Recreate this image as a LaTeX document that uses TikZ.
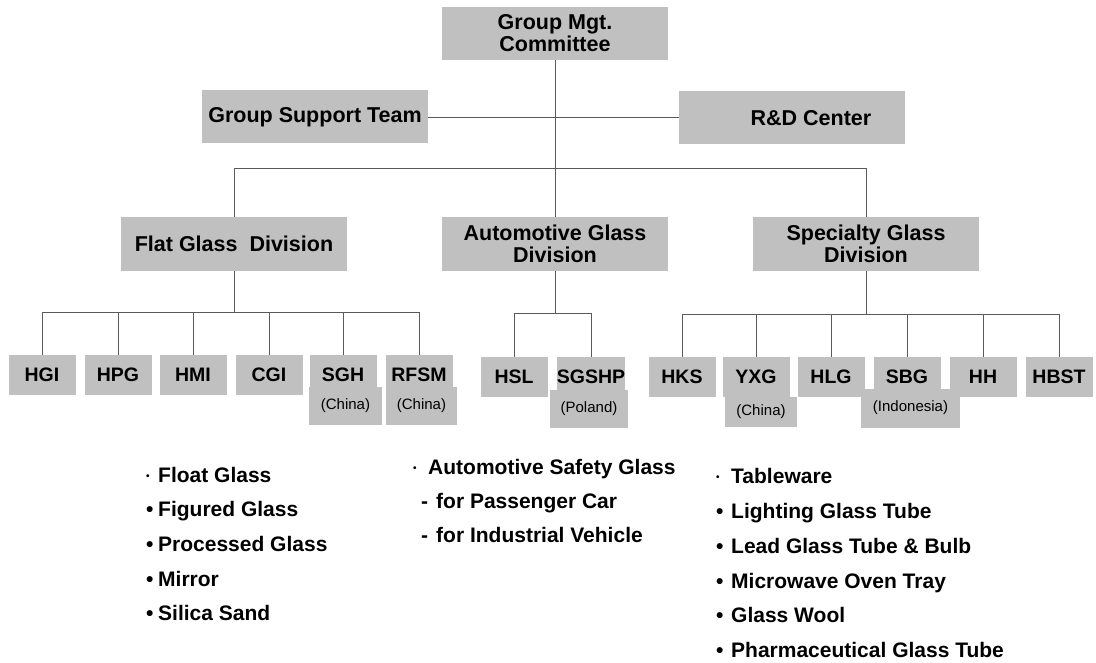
\documentclass[tikz,border=0pt]{standalone}
\usepackage{fontspec}
\setmainfont{Liberation Sans}
\definecolor{boxgray}{RGB}{192,192,192}
\definecolor{linegray}{RGB}{90,90,90}
\newcommand{\bigbul}[1]{\makebox[#1][l]{\textbullet}}
\newcommand{\smallbul}[1]{\makebox[#1][l]{\raisebox{3pt}{\fontsize{10}{10}\selectfont\textbullet}}}
\newcommand{\dashbul}[1]{\makebox[#1][l]{-}}
\begin{document}
\begin{tikzpicture}[x=1pt,y=-1pt,
  box/.style={fill=boxgray, inner sep=0pt, minimum width=226pt, minimum height=53pt, align=center, font=\bfseries\fontsize{21.5}{22}\selectfont},
  sub/.style={fill=boxgray, inner sep=0pt, minimum width=67pt, minimum height=40pt, font=\bfseries\fontsize{19.5}{20}\selectfont},
  ext/.style={fill=boxgray, inner sep=0pt, font=\fontsize{15}{15}\selectfont},
  conn/.style={draw=linegray, line width=0.8pt},
  item/.style={anchor=base west, inner sep=0pt, font=\bfseries\fontsize{21}{21}\selectfont}]
\useasboundingbox (0,0) rectangle (1096,663);
% top level
\node[box] (mgt) at (555,33.5) {Group Mgt.\\Committee};
\node[box] (sup) at (315,117) {Group Support Team};
\node[box] (rnd) at (792,118) {\hspace*{38pt}R\&D Center};
\coordinate (top) at (555,168);
\draw[conn] (sup.east) -- (rnd.west |- sup.east);
\draw[conn] (mgt.south) -- (top);
% divisions
\node[box, minimum height=54pt] (flat) at (234,244) {Flat Glass\ \ Division};
\node[box, minimum height=54pt] (auto) at (555,244) {Automotive Glass\\Division};
\node[box, minimum height=54pt] (spec) at (866,244) {Specialty Glass\\Division};
\draw[conn] (top -| flat.north) -- (top -| spec.north);
\draw[conn] (top -| flat.north) -- (flat.north);
\draw[conn] (top) -- (auto.north);
\draw[conn] (top -| spec.north) -- (spec.north);
% extension boxes
\node[ext, minimum width=73pt, minimum height=38pt] (sghx) at (345.5,406) {(China)};
\node[ext, minimum width=71pt, minimum height=38pt] (rfsmx) at (421.5,406) {(China)};
\node[ext, minimum width=78pt, minimum height=38pt] (sgshpx) at (589,409) {(Poland)};
\node[ext, minimum width=72pt, minimum height=30pt] (yxgx) at (761,412) {(China)};
\node[ext, minimum width=99pt, minimum height=39pt] (sbgx) at (910.5,408) {(Indonesia)};
% flat glass companies
\node[sub] (hgi) at (42,375) {HGI};
\node[sub] (hpg) at (118,375) {HPG};
\node[sub] (hmi) at (193,375) {HMI};
\node[sub] (cgi) at (269,375) {CGI};
\node[sub] (sgh) at (343,375) {SGH};
\node[sub] (rfsm) at (419,375) {RFSM};
\coordinate (fb) at (234,312);
\draw[conn] (fb -| hgi.north) -- (fb -| rfsm.north);
\draw[conn] (flat.south) -- (fb);
\foreach \n in {hgi,hpg,hmi,cgi,sgh,rfsm} \draw[conn] (fb -| \n.north) -- (\n.north);
% automotive companies
\node[sub] (hsl) at (514,377) {HSL};
\node[sub] (sgshp) at (591,377) {SGSHP};
\coordinate (ab) at (555,313);
\draw[conn] (ab -| hsl.north) -- (ab -| sgshp.north);
\draw[conn] (auto.south) -- (ab);
\foreach \n in {hsl,sgshp} \draw[conn] (ab -| \n.north) -- (\n.north);
% specialty companies
\node[sub] (hks) at (682,377) {HKS};
\node[sub] (yxg) at (756,377) {YXG};
\node[sub] (hlg) at (831,377) {HLG};
\node[sub] (sbg) at (907,377) {SBG};
\node[sub] (hh) at (983,377) {HH};
\node[sub] (hbst) at (1059,377) {HBST};
\coordinate (sb) at (866,314);
\draw[conn] (sb -| hks.north) -- (sb -| hbst.north);
\draw[conn] (spec.south) -- (sb);
\foreach \n in {hks,yxg,hlg,sbg,hh,hbst} \draw[conn] (sb -| \n.north) -- (\n.north);
% product lists
\node[item] (l1) at (146,482) {\smallbul{12pt}Float Glass};
\node[item] (l2) at (146,516) {\bigbul{12pt}Figured Glass};
\node[item] (l3) at (146,551) {\bigbul{12pt}Processed Glass};
\node[item] (l4) at (146,586) {\bigbul{12pt}Mirror};
\node[item] (l5) at (146,620) {\bigbul{12pt}Silica Sand};
\node[item] (m1) at (413,474) {\smallbul{15pt}Automotive Safety Glass};
\node[item] (m2) at (421,508) {\dashbul{15pt}for Passenger Car};
\node[item] (m3) at (421,542) {\dashbul{15pt}for Industrial Vehicle};
\node[item] (r1) at (716,483) {\smallbul{15pt}Tableware};
\node[item] (r2) at (716,518) {\bigbul{15pt}Lighting Glass Tube};
\node[item] (r3) at (716,553) {\bigbul{15pt}Lead Glass Tube \& Bulb};
\node[item] (r4) at (716,588) {\bigbul{15pt}Microwave Oven Tray};
\node[item] (r5) at (716,622) {\bigbul{15pt}Glass Wool};
\node[item] (r6) at (716,657) {\bigbul{15pt}Pharmaceutical Glass Tube};
\end{tikzpicture}
\end{document}
